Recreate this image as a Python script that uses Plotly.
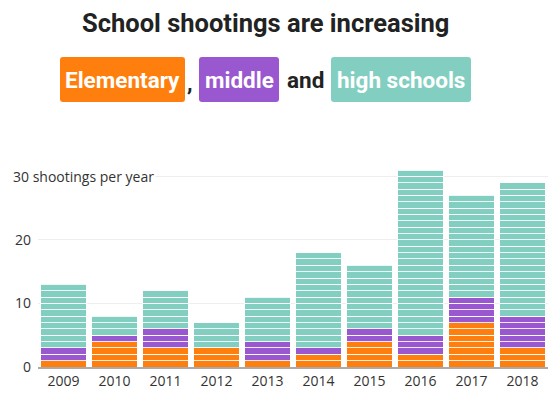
import plotly.graph_objects as go

years = ["2009", "2010", "2011", "2012", "2013", "2014", "2015", "2016", "2017", "2018"]
elementary = [1, 4, 3, 3, 1, 2, 4, 2, 7, 3]
middle = [2, 1, 3, 0, 3, 1, 2, 3, 4, 5]
high = [10, 3, 6, 4, 7, 15, 10, 26, 16, 21]
y_tickvals = [0, 10, 20, 30]
y_ticktext = ["0", "10", "20", ""]

colors = {"elementary": "#ff7f0e", "middle": "#9a58d0", "high": "#82cfc1"}

W, H = 553, 393
ML, MR, MT, MB = 38, 5, 170, 26
PW, PH = W - ML - MR, H - MT - MB


def px(x):
    return (x - ML) / PW


def py(y):
    return (H - MB - y) / PH


def rounded_rect(x0, y0, x1, y1, r):
    pts = [
        ("M", x0 + r, y0), ("L", x1 - r, y0), ("Q", x1, y0, x1, y0 + r),
        ("L", x1, y1 - r), ("Q", x1, y1, x1 - r, y1), ("L", x0 + r, y1),
        ("Q", x0, y1, x0, y1 - r), ("L", x0, y0 + r), ("Q", x0, y0, x0 + r, y0),
    ]
    out = []
    for p in pts:
        cmd, coords = p[0], p[1:]
        pairs = [f"{px(coords[i]):.5f},{py(coords[i + 1]):.5f}" for i in range(0, len(coords), 2)]
        out.append(cmd + " ".join(pairs))
    return " ".join(out) + " Z"


fig = go.Figure()
for name, vals in [("elementary", elementary), ("middle", middle), ("high", high)]:
    for k in range(max(vals)):
        fig.add_trace(go.Bar(
            x=years,
            y=[1 if v > k else None for v in vals],
            marker=dict(color=colors[name], line=dict(color="rgba(255,255,255,0.85)", width=1)),
            hoverinfo="skip",
            showlegend=False,
        ))

title_font = "Roboto"
TS = 25.5
SS = 22.5

annotations = [
    dict(text="<b>School shootings are increasing</b>", x=px(265), y=py(23), xref="paper", yref="paper",
         showarrow=False, font=dict(family=title_font, size=TS, color="#222"), xanchor="center", yanchor="middle"),
    dict(text="<b>Elementary</b>", x=px(122.5), y=py(80), xref="paper", yref="paper",
         showarrow=False, font=dict(family=title_font, size=SS, color="white"), xanchor="center", yanchor="middle"),
    dict(text="<b>,</b>", x=px(190), y=py(83), xref="paper", yref="paper",
         showarrow=False, font=dict(family=title_font, size=SS, color="#222"), xanchor="center", yanchor="middle"),
    dict(text="<b>middle</b>", x=px(239), y=py(80), xref="paper", yref="paper",
         showarrow=False, font=dict(family=title_font, size=SS, color="white"), xanchor="center", yanchor="middle"),
    dict(text="<b>and</b>", x=px(305), y=py(80), xref="paper", yref="paper",
         showarrow=False, font=dict(family=title_font, size=SS, color="#222"), xanchor="center", yanchor="middle"),
    dict(text="<b>high schools</b>", x=px(401), y=py(80), xref="paper", yref="paper",
         showarrow=False, font=dict(family=title_font, size=SS, color="white"), xanchor="center", yanchor="middle"),
    dict(text="30 shootings per year", x=px(11), y=30, xref="paper", yref="y",
         showarrow=False, font=dict(family="Open Sans, sans-serif", size=14, color="#333"),
         xanchor="left", yanchor="middle", bgcolor="white", borderpad=1),
]

shapes = []
for (x0, x1, c) in [(60, 185, colors["elementary"]), (199, 279, colors["middle"]), (331, 471, colors["high"])]:
    shapes.append(dict(type="path", xref="paper", yref="paper", path=rounded_rect(x0, 57, x1, 102, 3),
                       fillcolor=c, line=dict(width=0), layer="below"))

fig.update_layout(
    width=W, height=H,
    margin=dict(l=ML, r=MR, t=MT, b=MB),
    barmode="stack",
    bargap=0.1,
    plot_bgcolor="white",
    paper_bgcolor="white",
    annotations=annotations,
    shapes=shapes,
    font=dict(family="Open Sans, sans-serif", size=14, color="#333"),
    xaxis=dict(type="category", showline=True, linecolor="#aaa", linewidth=1.5, showgrid=False,
               ticks="", tickfont=dict(size=14, color="#333"), automargin=False),
    yaxis=dict(range=[0, 31], tickvals=y_tickvals, ticktext=y_ticktext, showgrid=True,
               gridcolor="#eeeeee", zeroline=False, tickfont=dict(size=14, color="#333"),
               ticklabelstandoff=6, automargin=False),
)

fig.write_html("out.html", post_script="document.body.style.margin='0';",
               config={"displayModeBar": False})
